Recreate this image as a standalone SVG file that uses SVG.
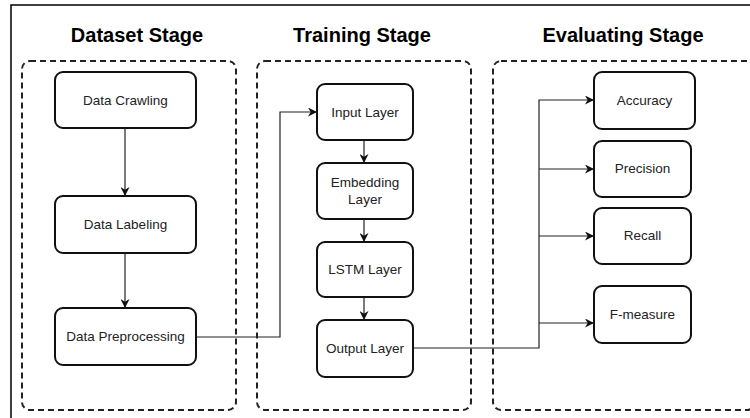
<svg xmlns="http://www.w3.org/2000/svg" width="750" height="418" viewBox="0 0 750 418">
<style>
.title{font-family:"Liberation Sans",Arial,sans-serif;font-size:20px;font-weight:bold;fill:#000;text-anchor:middle}
.lbl{font-family:"Liberation Sans",Arial,sans-serif;font-size:13.5px;fill:#222;text-anchor:middle}
.node{fill:#fff;stroke:#111;stroke-width:2}
.stage{fill:none;stroke:#222;stroke-width:2;stroke-dasharray:6 4}
.conn{fill:none;stroke:#222;stroke-width:1.2}
</style>
<defs>
<marker id="arr" viewBox="0 0 10 10" refX="10" refY="5" markerWidth="9" markerHeight="9" markerUnits="userSpaceOnUse" orient="auto">
<path d="M0,0 L10,5 L0,10 L3,5 z" fill="#111"/>
</marker>
</defs>
<rect width="750" height="418" fill="#fff"/>
<rect x="11" y="5" width="760" height="430" fill="none" stroke="#000" stroke-width="1.5"/>
<g id="stages">
<rect class="stage" x="22" y="61" width="214" height="349" rx="8"/>
<rect class="stage" x="257" y="61" width="214" height="349" rx="8"/>
<rect class="stage" x="493" y="61" width="262" height="349" rx="8"/>
<text class="title" x="137" y="42">Dataset Stage</text>
<text class="title" x="362" y="42">Training Stage</text>
<text class="title" x="623" y="42">Evaluating Stage</text>
</g>
<g id="connectors">
<path class="conn" d="M125,128 V196" marker-end="url(#arr)"/>
<path class="conn" d="M125,253 V308" marker-end="url(#arr)"/>
<path class="conn" d="M196,337 H280 V112 H317" marker-end="url(#arr)"/>
<path class="conn" d="M364,140 V163" marker-end="url(#arr)"/>
<path class="conn" d="M364,219 V242" marker-end="url(#arr)"/>
<path class="conn" d="M364,297 V320" marker-end="url(#arr)"/>
<path class="conn" d="M413,348 H539 V100 H594" marker-end="url(#arr)"/>
<path class="conn" d="M539,169 H594" marker-end="url(#arr)"/>
<path class="conn" d="M539,236 H594" marker-end="url(#arr)"/>
<path class="conn" d="M539,323 H594" marker-end="url(#arr)"/>
</g>
<g id="data-crawling"><rect class="node" x="55" y="72" width="141" height="56" rx="8"/><text class="lbl" x="125.5" y="105">Data Crawling</text></g>
<g id="data-labeling"><rect class="node" x="55" y="196" width="141" height="57" rx="8"/><text class="lbl" x="125.5" y="229">Data Labeling</text></g>
<g id="data-preprocessing"><rect class="node" x="55" y="308" width="141" height="57" rx="8"/><text class="lbl" x="125.5" y="341">Data Preprocessing</text></g>
<g id="input-layer"><rect class="node" x="317" y="84" width="96" height="56" rx="8"/><text class="lbl" x="365" y="117">Input Layer</text></g>
<g id="embedding-layer"><rect class="node" x="317" y="163" width="96" height="56" rx="8"/><text class="lbl" x="365" y="187">Embedding</text><text class="lbl" x="365" y="204">Layer</text></g>
<g id="lstm-layer"><rect class="node" x="317" y="242" width="96" height="55" rx="8"/><text class="lbl" x="365" y="274">LSTM Layer</text></g>
<g id="output-layer"><rect class="node" x="317" y="320" width="96" height="57" rx="8"/><text class="lbl" x="365" y="353">Output Layer</text></g>
<g id="accuracy"><rect class="node" x="594" y="72" width="101" height="57" rx="8"/><text class="lbl" x="644.5" y="105">Accuracy</text></g>
<g id="precision"><rect class="node" x="594" y="141" width="97" height="56" rx="8"/><text class="lbl" x="642.5" y="173">Precision</text></g>
<g id="recall"><rect class="node" x="594" y="208" width="97" height="56" rx="8"/><text class="lbl" x="642.5" y="240">Recall</text></g>
<g id="f-measure"><rect class="node" x="594" y="286" width="97" height="57" rx="8"/><text class="lbl" x="642.5" y="319">F-measure</text></g>
</svg>
